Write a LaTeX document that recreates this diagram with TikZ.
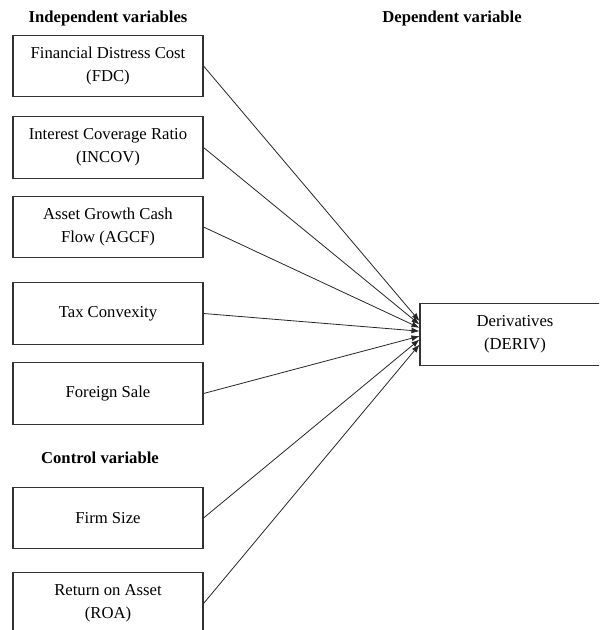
\documentclass[tikz,border=0pt]{standalone}
\usepackage{fontspec}
\setmainfont{Liberation Serif}
\usetikzlibrary{arrows.meta,shapes,positioning}

\begin{document}
\begin{tikzpicture}[x=0.75pt,y=-0.75pt,
	var/.style={draw=black!80,line width=0.8pt,minimum width=142.5pt,minimum height=46pt,inner sep=0pt,align=center,font=\fontsize{12.5}{17}\selectfont},
	head/.style={font=\fontsize{12.5}{15}\selectfont\bfseries},
	link/.style={-{Latex[length=6pt,width=4.5pt]},line width=0.6pt,black!85}]
	\clip (0,0) rectangle (599,630);
	
	\node[head] (indep) at (108,18) {Independent variables};
	\node[head] (dep) at (452,18) {Dependent variable};
	\node[head] (ctrl) at (100,458) {Control variable};
	
	\node[var] (fdc) at (108,66) {Financial Distress Cost\\(FDC)};
	\node[var] (incov) at (108,147.5) {Interest Coverage Ratio\\(INCOV)};
	\node[var] (agcf) at (108,227) {Asset Growth Cash\\Flow (AGCF)};
	\node[var] (tax) at (108,313.5) {Tax Convexity};
	\node[var] (fsale) at (108,393.5) {Foreign Sale};
	\node[var] (size) at (108,518) {Firm Size};
	\node[var] (roa) at (108,603.5) {Return on Asset\\(ROA)};
	
	\node[var] (deriv) at (515,334.5) {Derivatives\\(DERIV)};
	
	% all arrows into the dependent variable
	\draw[link] (fdc.east) -- (deriv.172.5);
	\draw[link] (incov.east) -- (deriv.174.5);
	\draw[link] (agcf.east) -- (deriv.176.5);
	\draw[link] (tax.east) -- (deriv.178.5);
	\draw[link] (fsale.east) -- (deriv.181);
	\draw[link] (size.east) -- (deriv.183.5);
	\draw[link] (roa.east) -- (deriv.186);
\end{tikzpicture}
\end{document}
